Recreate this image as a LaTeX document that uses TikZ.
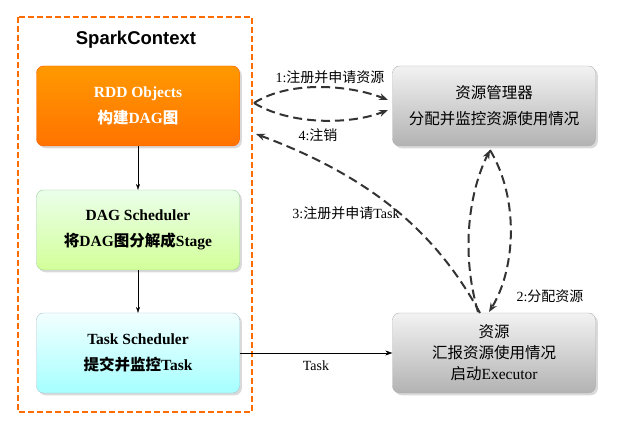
\documentclass[tikz,border=0pt]{standalone}
\usepackage{fontspec}
\setmainfont{Liberation Serif}
\newfontfamily\cjk{Noto Sans CJK SC}
\newfontfamily\hsans{Liberation Sans}
\usetikzlibrary{arrows.meta,shadows}
\begin{document}
\begin{tikzpicture}[x=1pt,y=-1pt,
  box/.style={rounded corners=7pt,minimum width=203pt,minimum height=80pt,align=center,font=\fontsize{15.5}{26}\selectfont\bfseries,drop shadow={opacity=0.3}},
  dsh/.style={dash pattern=on 9pt off 5pt,line width=2pt,-{Stealth[length=9pt,width=7pt]},draw=black!80},
  lbl/.style={font=\fontsize{14}{16}\selectfont}]
\useasboundingbox (0,0) rectangle (629,435);
\draw[orange!85!red,line width=1.3pt,dash pattern=on 6pt off 3pt] (18,17) rectangle (252,412);
\node[font=\hsans\bfseries\fontsize{18.5}{20}\selectfont] (sc) at (136,40) {SparkContext};
\node[box,draw=orange!70!red,top color=orange!80!yellow,bottom color=orange!90!red,text=white] (rdd) at (138,106) {RDD Objects\\{\cjk 构建}DAG{\cjk 图}};
\node[box,draw=green!50!black!40,top color=green!8,bottom color=green!25!lime!40] (dag) at (138,230) {DAG Scheduler\\{\cjk 将}DAG{\cjk 图分解成}Stage};
\node[box,draw=black!30,top color=black!5,bottom color=black!30,font=\fontsize{15.5}{26}\selectfont] (rm) at (494,106) {{\cjk 资源管理器}\\{\cjk 分配并监控资源使用情况}};
\node[box,draw=cyan!50!black!40,top color=cyan!5,bottom color=cyan!35] (task) at (138,353) {Task Scheduler\\{\cjk 提交并监控}Task};
\node[box,draw=black!30,top color=black!5,bottom color=black!30,font=\fontsize{15.5}{21}\selectfont] (res) at (494,353) {{\cjk 资源}\\{\cjk 汇报资源使用情况}\\{\cjk 启动}Executor};
\draw[-{Stealth[length=6pt,width=4pt]}] (rdd) -- (dag);
\draw[-{Stealth[length=6pt,width=4pt]}] (dag) -- (task);
\draw[-{Stealth[length=7pt,width=5pt]}] (task) -- node[below=4pt,lbl]{Task} (res);
\coordinate (o1) at (254,103);
\draw[dsh] (o1) .. controls (290,80) and (350,85) .. (388,100);
\draw[dsh] (o1) .. controls (290,125) and (350,125) .. (388,110);
\node[lbl] at (330,77) {1:{\cjk 注册并申请资源}};
\node[lbl] at (318,135) {4:{\cjk 注销}};
\coordinate (o4) at (480,313);
\coordinate (e4) at (256,134);
\draw[dsh] (o4) .. controls (440,240) and (380,180) .. (e4);
\node[lbl] at (346,213) {3:{\cjk 注册并申请}Task};
\coordinate (rt) at (490,150);
\coordinate (rb) at (489,312);
\draw[dsh] (478,312) .. controls (460,250) and (470,190) .. (rt);
\draw[dsh] (rt) .. controls (520,200) and (515,270) .. (rb);
\node[lbl] at (550,296) {2:{\cjk 分配资源}};
\end{tikzpicture}
\end{document}
